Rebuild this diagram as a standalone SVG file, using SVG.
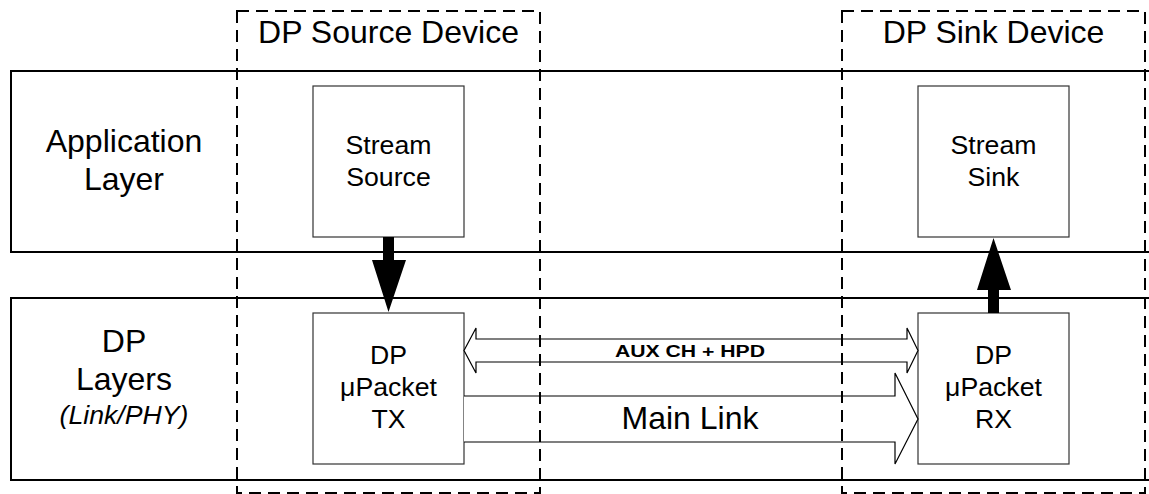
<svg xmlns="http://www.w3.org/2000/svg" width="1149" height="494" viewBox="0 0 1149 494">
<style>
.layer{fill:none;stroke:#000;stroke-width:2}
.box{fill:#fff;stroke:#333;stroke-width:1.2}
.dev{fill:none;stroke:#000;stroke-width:2;stroke-dasharray:12 7}
.t{font-family:"Liberation Sans",Arial,sans-serif;fill:#000;text-anchor:middle}
.big{font-size:32px}
.mid{font-size:26.67px}
.solid{fill:#000;stroke:none}
.hollow{fill:#fff;stroke:#000;stroke-width:1.2}
</style>
<rect width="1149" height="494" fill="#fff"/>
<g id="app-layer">
<rect class="layer" x="11" y="71" width="1145" height="181"/>
<text class="t big" x="124" y="152">Application</text>
<text class="t big" x="124" y="190">Layer</text>
</g>
<g id="dp-layers">
<rect class="layer" x="11" y="298" width="1145" height="182"/>
<text class="t big" x="124" y="352">DP</text>
<text class="t big" x="124" y="390">Layers</text>
<text class="t mid" x="124" y="424" font-style="italic">(Link/PHY)</text>
</g>
<g id="stream-source">
<rect class="box" x="313" y="86" width="151" height="151"/>
<text class="t mid" x="388.5" y="154">Stream</text>
<text class="t mid" x="388.5" y="186">Source</text>
</g>
<g id="stream-sink">
<rect class="box" x="918" y="86" width="151" height="151"/>
<text class="t mid" x="993.5" y="154">Stream</text>
<text class="t mid" x="993.5" y="186">Sink</text>
</g>
<g id="dp-tx">
<rect class="box" x="313" y="313" width="151" height="151"/>
<text class="t mid" x="388.5" y="364">DP</text>
<text class="t mid" x="388.5" y="396">μPacket</text>
<text class="t mid" x="388.5" y="428">TX</text>
</g>
<g id="dp-rx">
<rect class="box" x="918" y="313" width="151" height="151"/>
<text class="t mid" x="993.5" y="364">DP</text>
<text class="t mid" x="993.5" y="396">μPacket</text>
<text class="t mid" x="993.5" y="428">RX</text>
</g>
<g id="connectors">
<polygon class="solid" points="383,237 394,237 394,260 406,260 388.5,312 372,260 383,260"/>
<polygon class="solid" points="988,313 999,313 999,290 1011,290 993.5,238 977,290 988,290"/>
<polygon class="hollow" points="464,350.5 476,328 476,339 907,339 907,328 918,350.5 907,373 907,362 476,362 476,373"/>
<polyline class="hollow" points="464,396 895,396 895,373 918,419 895,464 895,442 464,442"/>
<text class="t" x="690" y="357" font-size="16" font-weight="bold" textLength="150" lengthAdjust="spacingAndGlyphs">AUX CH + HPD</text>
<text class="t big" x="690" y="429">Main Link</text>
</g>
<g id="source-device">
<rect class="dev" x="237" y="11" width="303" height="482"/>
<text class="t big" x="388.5" y="43">DP Source Device</text>
</g>
<g id="sink-device">
<rect class="dev" x="842" y="11" width="303" height="482"/>
<text class="t big" x="993.5" y="43">DP Sink Device</text>
</g>
</svg>
